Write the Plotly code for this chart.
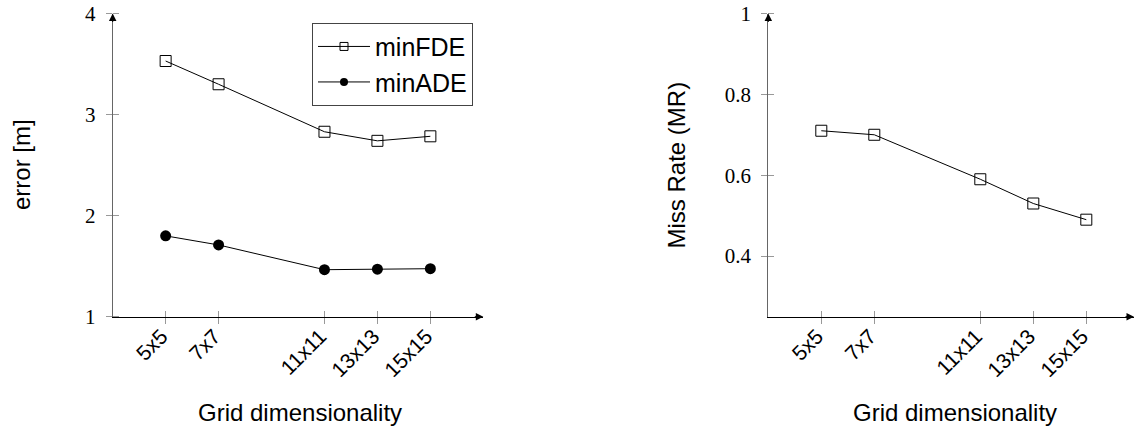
import plotly.graph_objects as go

# ---- data ----
grid_labels = ["5x5", "7x7", "11x11", "13x13", "15x15"]
grid_size = [5, 7, 11, 13, 15]
min_fde = [3.53, 3.30, 2.83, 2.74, 2.785]
min_ade = [1.80, 1.71, 1.465, 1.47, 1.475]
miss_rate = [0.71, 0.70, 0.59, 0.53, 0.49]

W, H = 1134, 432
SANS = "Liberation Sans, Arial, sans-serif"
SERIF = "Liberation Serif, DejaVu Serif, serif"

fig = go.Figure()

fig.add_trace(go.Scatter(
    x=grid_size, y=min_fde, name="minFDE", mode="lines+markers", showlegend=False,
    line=dict(color="black", width=1),
    marker=dict(symbol="square-open", size=11, color="black", line=dict(width=1)),
    xaxis="x", yaxis="y"))
fig.add_trace(go.Scatter(
    x=grid_size, y=min_ade, name="minADE", mode="lines+markers", showlegend=False,
    line=dict(color="black", width=1),
    marker=dict(symbol="circle", size=11, color="black"),
    xaxis="x", yaxis="y"))
fig.add_trace(go.Scatter(
    x=grid_size, y=miss_rate, name="MR", mode="lines+markers", showlegend=False,
    line=dict(color="black", width=1),
    marker=dict(symbol="square-open", size=11, color="black", line=dict(width=1)),
    xaxis="x2", yaxis="y2"))
# legend entries (smaller legend glyphs, as in the reference)
fig.add_trace(go.Scatter(
    x=[None], y=[None], name="minFDE", mode="lines+markers",
    line=dict(color="black", width=1),
    marker=dict(symbol="square-open", size=8, color="black", line=dict(width=1)),
    xaxis="x", yaxis="y"))
fig.add_trace(go.Scatter(
    x=[None], y=[None], name="minADE", mode="lines+markers",
    line=dict(color="black", width=1),
    marker=dict(symbol="circle", size=8, color="black"),
    xaxis="x", yaxis="y"))

ydom = [1 - 316.7 / H, 1 - 13.5 / H]
NB = "\u00a0"

def xaxis(domain, rng, anchor):
    return dict(
        domain=domain, range=rng, anchor=anchor,
        tickmode="array", tickvals=grid_size, ticktext=[t + NB for t in grid_labels],
        tickangle=-45, tickfont=dict(family=SANS, size=21, color="black"),
        ticks="outside", ticklen=6, tickcolor="#999", tickwidth=1,
        minor=dict(tickmode="array", tickvals=grid_size, ticks="inside",
                   ticklen=6, tickcolor="#999", tickwidth=1),
        ticklabelstandoff=-12,
        showline=True, linecolor="black", linewidth=1,
        showgrid=False, zeroline=False, automargin=False)

def yaxis(rng, tickvals, ticktext, anchor):
    return dict(
        domain=ydom, range=rng, anchor=anchor,
        tickmode="array", tickvals=tickvals, ticktext=ticktext,
        tickfont=dict(family=SERIF, size=21, color="black"),
        ticks="outside", ticklen=6, tickcolor="#999", tickwidth=1,
        minor=dict(tickmode="array", tickvals=tickvals, ticks="inside",
                   ticklen=6, tickcolor="#999", tickwidth=1),
        ticklabelstandoff=6,
        showline=True, linecolor="#666", linewidth=1.2,
        showgrid=False, zeroline=False, automargin=False)

fig.update_layout(
    width=W, height=H,
    margin=dict(l=0, r=0, t=0, b=0),
    paper_bgcolor="white", plot_bgcolor="white",
    xaxis=xaxis([112.7 / W, 483.3 / W], [3, 17], "y"),
    yaxis=yaxis([1, 4], [1, 2, 3, 4], ["1", "2", "3", "4"], "x"),
    xaxis2=xaxis([768.3 / W, 1.0], [3, 16.8], "y2"),
    yaxis2=yaxis([0.25, 1], [0.4, 0.6, 0.8, 1.0], ["0.4", "0.6", "0.8", "1"], "x2"),
    legend=dict(x=473 / W, y=1 - 22.7 / H, xanchor="right", yanchor="top",
                bordercolor="#444", borderwidth=1, bgcolor="white",
                font=dict(family=SANS, size=25, color="black"),
                itemwidth=52, tracegroupgap=0),
    showlegend=True,
)

annotations = []
TF = dict(family=SANS, size=24, color="black")
annotations.append(dict(text="error [m]", x=21 / W, y=1 - 165 / H, xref="paper", yref="paper",
                        xanchor="center", yanchor="middle",
                        textangle=-90, showarrow=False, font=TF))
annotations.append(dict(text="Miss Rate (MR)", x=676 / W, y=1 - 165.5 / H, xref="paper", yref="paper",
                        xanchor="center", yanchor="middle",
                        textangle=-90, showarrow=False, font=TF))
annotations.append(dict(text="Grid dimensionality", x=300 / W, y=1 - 412 / H, xref="paper", yref="paper",
                        xanchor="center", yanchor="middle", showarrow=False, font=TF))
annotations.append(dict(text="Grid dimensionality", x=955 / W, y=1 - 412 / H, xref="paper", yref="paper",
                        xanchor="center", yanchor="middle", showarrow=False, font=TF))
# axis arrows
for xr, yr in (("x", "y"), ("x2", "y2")):
    annotations.append(dict(text="", xref=f"{xr} domain", yref=f"{yr} domain", x=1, y=0,
                            ax=-10, ay=0, showarrow=True, arrowhead=2, arrowsize=1.5,
                            arrowwidth=1, arrowcolor="black", standoff=0))
    annotations.append(dict(text="", xref=f"{xr} domain", yref=f"{yr} domain", x=0, y=1,
                            ax=0, ay=10, showarrow=True, arrowhead=2, arrowsize=1.5,
                            arrowwidth=1, arrowcolor="black", standoff=0))
fig.update_layout(annotations=annotations)

fig.write_html("out.html")
